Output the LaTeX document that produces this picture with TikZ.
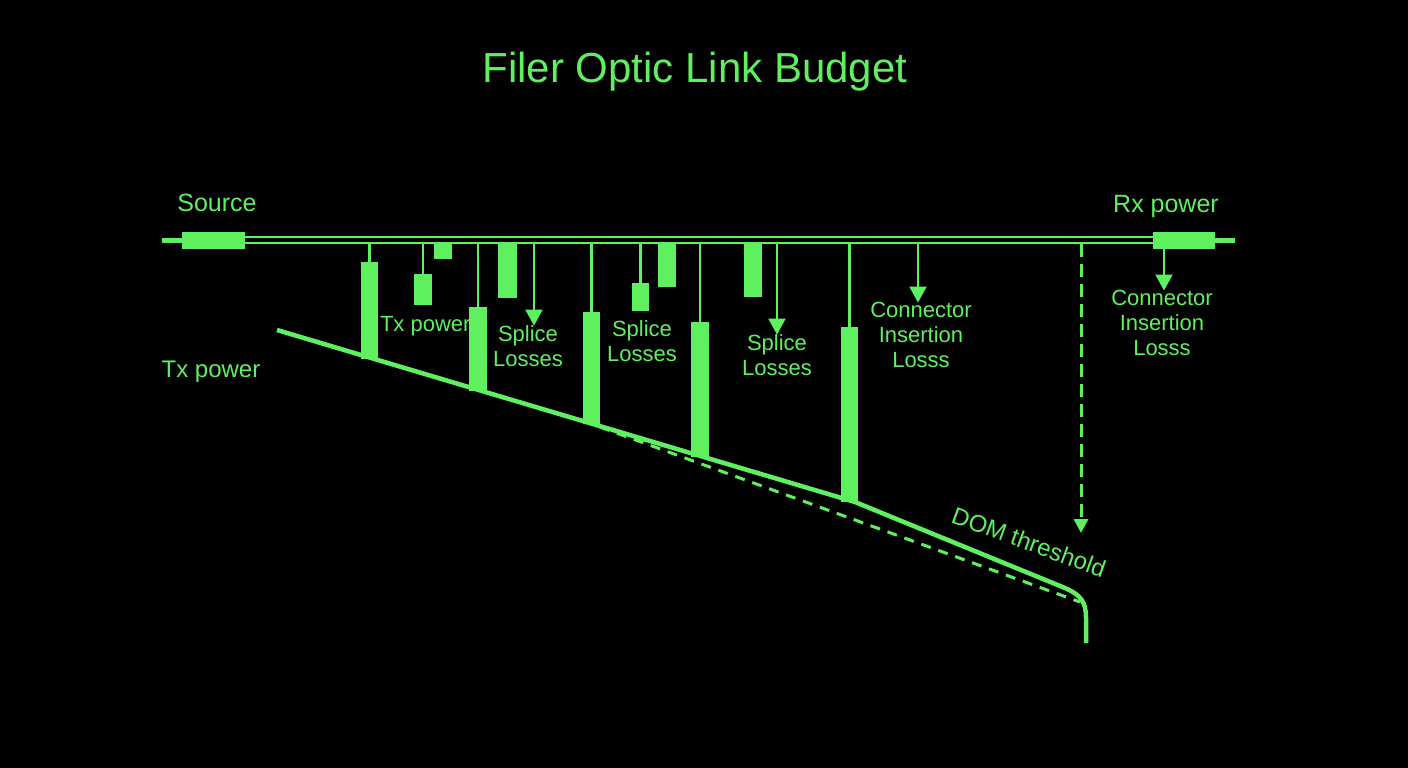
\documentclass[tikz,border=0pt]{standalone}
\usepackage{fontspec}
\setmainfont{Liberation Sans}
\usetikzlibrary{arrows.meta}
\definecolor{lg}{RGB}{95,240,95}
\begin{document}
\begin{tikzpicture}[x=1pt,y=-1pt,
  blk/.style={fill=lg, draw=none, inner sep=0pt, outer sep=0pt, anchor=north west},
  drop/.style={draw=lg, line width=2.2pt},
  dnarrow/.style={draw=lg, line width=2.2pt, -{Triangle[width=17pt,length=16pt]}},
  txt/.style={text=lg, inner sep=0pt, outer sep=0pt},
  lbl/.style={txt, font=\fontsize{22}{24.7}\selectfont, align=center},
]
\fill[black] (0,0) rectangle (1408,768);
\useasboundingbox (0,0) rectangle (1408,768);

% texts
\node[txt, font=\fontsize{42}{50}\selectfont, anchor=base] (title) at (695,82) {Filer Optic Link Budget};
\node[txt, font=\fontsize{25}{30}\selectfont, anchor=base] (srcl) at (217,211) {Source};
\node[txt, font=\fontsize{25}{30}\selectfont, anchor=base] (rxl) at (1166,212) {Rx power};
\node[txt, font=\fontsize{24}{30}\selectfont, anchor=base] (txl) at (211,377) {Tx power};
\node[txt, font=\fontsize{22}{26}\selectfont, anchor=base west] (txi) at (380,331) {Tx power};
\node[lbl] (lab1) at (528,346) {Splice\\Losses};
\node[lbl] (lab2) at (642,341) {Splice\\Losses};
\node[lbl] (lab3) at (777,355) {Splice\\Losses};
\node[lbl] (lab4) at (921,335) {Connector\\Insertion\\Losss};
\node[lbl] (lab5) at (1162,323) {Connector\\Insertion\\Losss};
\node[txt, font=\fontsize{24}{28}\selectfont, rotate=-20] (dom) at (1029,542) {DOM threshold};

% connectors at ends
\node[blk, minimum width=63pt, minimum height=17pt] (src) at (182,232) {};
\node[blk, minimum width=62pt, minimum height=17pt] (rx) at (1153,232) {};
\coordinate (stubL) at (162,240.5);
\coordinate (stubR) at (1235,240.5);
\draw[lg, line width=5pt] (stubL) -- (src.west);
\draw[lg, line width=5pt] (rx.east) -- (stubR);

% double fibre line
\draw[lg, line width=2.2pt] ([yshift=3.5pt]src.east) -- ([yshift=3.5pt]rx.west);
\draw[lg, line width=2.2pt] ([yshift=-2.5pt]src.east) -- ([yshift=-2.5pt]rx.west);

% bars reaching the power line
\node[blk, minimum width=17pt, minimum height=97pt] (bar1) at (361,262) {};
\node[blk, minimum width=18pt, minimum height=84pt] (bar2) at (469,307) {};
\node[blk, minimum width=17pt, minimum height=112pt] (bar3) at (583,312) {};
\node[blk, minimum width=18pt, minimum height=135pt] (bar4) at (691,322) {};
\node[blk, minimum width=17pt, minimum height=175pt] (bar5) at (841,327) {};

% small boxes
\node[blk, minimum width=18pt, minimum height=31pt] (box1) at (414,274) {};
\node[blk, minimum width=18pt, minimum height=17pt] (hang1) at (434,242) {};
\node[blk, minimum width=19pt, minimum height=56pt] (hang2) at (498,242) {};
\node[blk, minimum width=17pt, minimum height=28pt] (box2) at (632,283) {};
\node[blk, minimum width=18pt, minimum height=45pt] (hang3) at (658,242) {};
\node[blk, minimum width=18pt, minimum height=55pt] (hang4) at (744,242) {};

% drop lines
\coordinate (d1) at (369.5,243);
\coordinate (d2) at (423,243);
\coordinate (d3) at (478,243);
\coordinate (d4) at (591.5,243);
\coordinate (d5) at (640.5,243);
\coordinate (d6) at (700,243);
\coordinate (d7) at (849.5,243);
\draw[drop] (d1) -- (bar1.north);
\draw[drop] (d2) -- (box1.north);
\draw[drop] (d3) -- (bar2.north);
\draw[drop] (d4) -- (bar3.north);
\draw[drop] (d5) -- (box2.north);
\draw[drop] (d6) -- (bar4.north);
\draw[drop] (d7) -- (bar5.north);

% arrows to labels
\coordinate (a1) at (534,243);
\coordinate (a2) at (777,243);
\coordinate (a3) at (918,243);
\coordinate (a4) at (1164,249);
\draw[dnarrow] (a1) -- (a1 |- lab1.north);
\draw[dnarrow] (a2) -- (a2 |- lab3.north);
\draw[dnarrow] (a3) -- (a3 |- lab4.north);
\draw[dnarrow] (a4) -- (a4 |- lab5.north);

% power line
\coordinate (p0) at (277,330);
\coordinate (p1) at (855,502);
\coordinate (p2) at (1065,588);
\coordinate (p3) at (1086,618);
\coordinate (p4) at (1086,643);
\draw[lg, line width=4.5pt, line join=round] (p0) -- (p1) -- (p2) .. controls (1081,595) and (1086,602) .. (p3) -- (p4);

% dashed threshold line
\coordinate (q0) at (600,427);
\coordinate (q1) at (1080,602);
\draw[lg, line width=3pt, dash pattern=on 10pt off 8pt] (q0) -- (q1);

% dashed vertical arrow
\coordinate (v0) at (1081,244);
\coordinate (v1) at (1081,533);
\draw[lg, line width=3pt, dash pattern=on 13pt off 7pt, -{Triangle[width=14pt,length=14pt]}] (v0) -- (v1);
\end{tikzpicture}
\end{document}
